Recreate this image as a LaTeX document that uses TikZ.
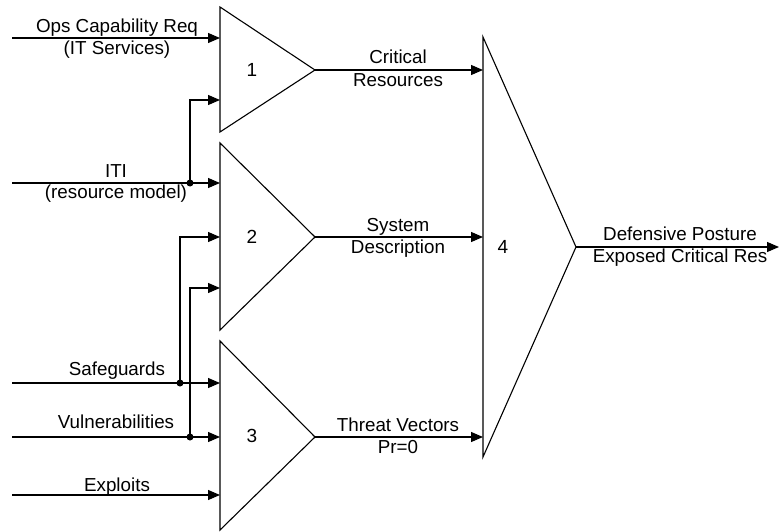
\documentclass[tikz,border=0pt]{standalone}
\usepackage{fontspec}
\setmainfont{Liberation Sans}
\usetikzlibrary{arrows.meta}
\begin{document}
\begin{tikzpicture}[x=1pt,y=-1pt,
  line width=1.1pt,
  arr/.style={-{Triangle[length=12pt,width=10pt]}},
  lbl/.style={font=\fontsize{18.8}{20}\selectfont, inner sep=0pt, anchor=base},
  num/.style={font=\fontsize{19}{20}\selectfont, inner sep=0pt},
  jdot/.style={circle,fill,inner sep=0pt,minimum size=7pt},
  tri/.style={draw, line join=miter}
]
\useasboundingbox (0,0) rectangle (779,532);

% blocks
\draw[tri] (220,7) coordinate (t1a) -- (220,132) coordinate (t1b) -- (315,70) coordinate (t1o) -- cycle;
\draw[tri] (220,143) coordinate (t2a) -- (220,330) coordinate (t2b) -- (315,237) coordinate (t2o) -- cycle;
\draw[tri] (220,341) coordinate (t3a) -- (220,530) coordinate (t3b) -- (315,437) coordinate (t3o) -- cycle;
\draw[tri] (483,37) coordinate (t4a) -- (483,457) coordinate (t4b) -- (576,247) coordinate (t4o) -- cycle;
\node[num] (n1) at (252,70) {1};
\node[num] (n2) at (252,237) {2};
\node[num] (n3) at (252,436) {3};
\node[num] (n4) at (503,247) {4};

% input ports
\coordinate (p1a) at (220,38);
\coordinate (p1b) at (220,100);
\coordinate (p2a) at (220,183);
\coordinate (p2b) at (220,237);
\coordinate (p2c) at (220,288);
\coordinate (p3a) at (220,383);
\coordinate (p3b) at (220,437);
\coordinate (p3c) at (220,495);
\coordinate (p4a) at (483,70);
\coordinate (p4b) at (483,237);
\coordinate (p4c) at (483,437);

% free ends
\coordinate (sOps) at (12,38);
\coordinate (sITI) at (12,183);
\coordinate (sSaf) at (12,383);
\coordinate (sVul) at (12,437);
\coordinate (sExp) at (12,495);
\coordinate (eOut) at (779,247);

% junctions
\node[jdot] (jITI) at (190,183) {};
\node[jdot] (jSaf) at (180,383) {};
\node[jdot] (jVul) at (190,437) {};

% inputs
\draw[arr] (sOps) -- (p1a);
\draw[arr] (sITI) -- (p2a);
\draw[arr] (jITI.center) |- (p1b);
\draw[arr] (sSaf) -- (p3a);
\draw[arr] (jSaf.center) |- (p2b);
\draw[arr] (sVul) -- (p3b);
\draw[arr] (jVul.center) |- (p2c);
\draw[arr] (sExp) -- (p3c);

% outputs
\draw[arr] (t1o) -- (p4a);
\draw[arr] (t2o) -- (p4b);
\draw[arr] (t3o) -- (p4c);
\draw[arr] (t4o) -- (eOut);

% labels
\node[lbl] (lOps1) at (117,33) {Ops Capability Req};
\node[lbl] (lOps2) at (117,55) {(IT Services)};
\node[lbl] (lITI1) at (116,178) {ITI};
\node[lbl] (lITI2) at (116,198) {(resource model)};
\node[lbl] (lSaf) at (117,375) {Safeguards};
\node[lbl] (lVul) at (116,428) {Vulnerabilities};
\node[lbl] (lExp) at (117,491) {Exploits};
\node[lbl] (lCR1) at (398,64) {Critical};
\node[lbl] (lCR2) at (398,87) {Resources};
\node[lbl] (lSD1) at (398,231) {System};
\node[lbl] (lSD2) at (398,253) {Description};
\node[lbl] (lTV1) at (398,431) {Threat Vectors};
\node[lbl] (lTV2) at (398,453) {Pr=0};
\node[lbl] (lDP1) at (680,240) {Defensive Posture};
\node[lbl] (lDP2) at (680,262) {Exposed Critical Res};
\end{tikzpicture}
\end{document}
